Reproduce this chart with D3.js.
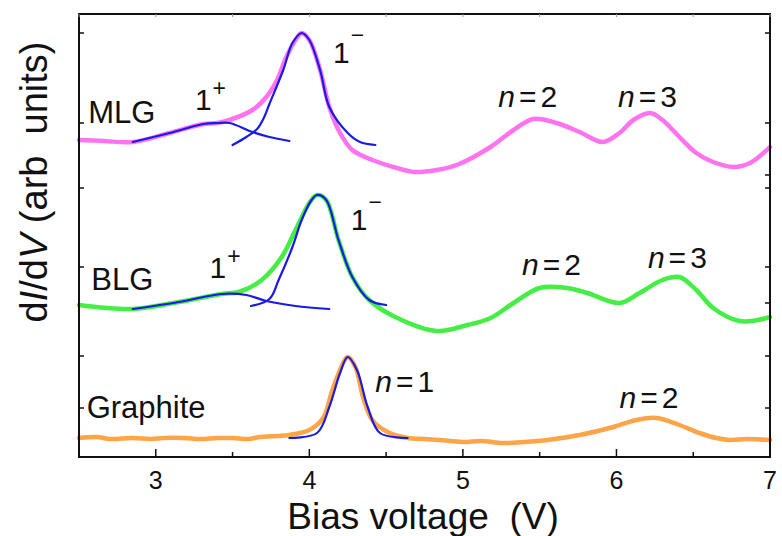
<!DOCTYPE html>
<html>
<head>
<meta charset="utf-8">
<script src="https://cdn.jsdelivr.net/npm/d3@7"></script>
<style>
  body { margin: 0; background: #fff; }
  svg { display: block; font-family: "Liberation Sans", Arial, Helvetica, sans-serif; }
  text { white-space: pre; }
</style>
</head>
<body>
<svg width="782" height="536"></svg>
<script>
// spectra: [bias (V), dI/dV (arb. units, offset per trace)]
const mlg = [[2.50,3.17],[2.66,3.16],[2.85,3.15],[3.09,3.24],[3.31,3.33],[3.40,3.34],[3.48,3.37],[3.63,3.47],[3.72,3.60],[3.79,3.77],[3.85,4.00],[3.91,4.17],[3.95,4.24],[4.00,4.17],[4.07,3.87],[4.13,3.50],[4.20,3.24],[4.28,3.07],[4.41,2.97],[4.57,2.89],[4.68,2.85],[4.83,2.87],[4.96,2.92],[5.18,3.10],[5.33,3.27],[5.46,3.38],[5.61,3.34],[5.76,3.25],[5.91,3.15],[6.02,3.24],[6.11,3.37],[6.22,3.44],[6.30,3.37],[6.41,3.20],[6.52,3.04],[6.63,2.95],[6.76,2.90],[6.87,2.94],[7.00,3.10]];
const mlgFitPlus = [[2.85,3.15],[3.09,3.24],[3.31,3.33],[3.40,3.34],[3.48,3.34],[3.63,3.25],[3.74,3.20],[3.87,3.16]];
const mlgFitMinus = [[3.50,3.12],[3.59,3.20],[3.66,3.28],[3.70,3.38],[3.74,3.53],[3.83,3.87],[3.89,4.14],[3.95,4.24],[4.00,4.17],[4.07,3.87],[4.13,3.50],[4.25,3.24],[4.33,3.15],[4.43,3.12]];

const blg = [[2.50,1.52],[2.85,1.48],[3.15,1.55],[3.43,1.63],[3.54,1.65],[3.69,1.77],[3.82,2.00],[3.91,2.27],[4.00,2.54],[4.05,2.62],[4.11,2.57],[4.19,2.17],[4.28,1.80],[4.39,1.57],[4.56,1.40],[4.83,1.26],[5.03,1.32],[5.18,1.39],[5.33,1.54],[5.50,1.69],[5.68,1.69],[5.81,1.64],[6.02,1.54],[6.15,1.64],[6.30,1.77],[6.41,1.80],[6.52,1.67],[6.63,1.49],[6.80,1.36],[6.92,1.37],[7.00,1.40]];
const blgFitPlus = [[2.85,1.48],[3.15,1.55],[3.43,1.63],[3.59,1.62],[3.72,1.56],[3.91,1.51],[4.13,1.48]];
const blgFitMinus = [[3.62,1.51],[3.74,1.58],[3.80,1.77],[3.89,2.10],[3.95,2.37],[4.01,2.56],[4.05,2.62],[4.11,2.57],[4.19,2.17],[4.28,1.80],[4.39,1.57],[4.50,1.52]];

const graphite = [[2.50,0.19],[2.62,0.20],[2.70,0.18],[2.85,0.19],[2.97,0.18],[3.05,0.19],[3.18,0.19],[3.29,0.18],[3.40,0.19],[3.50,0.19],[3.60,0.18],[3.68,0.20],[3.80,0.21],[3.87,0.22],[4.00,0.27],[4.09,0.39],[4.15,0.67],[4.22,0.94],[4.25,1.00],[4.30,0.90],[4.35,0.60],[4.41,0.37],[4.51,0.25],[4.64,0.19],[4.75,0.18],[4.85,0.17],[5.00,0.15],[5.12,0.16],[5.26,0.14],[5.40,0.15],[5.55,0.17],[5.76,0.22],[5.98,0.30],[6.13,0.37],[6.26,0.39],[6.41,0.32],[6.54,0.24],[6.65,0.19],[6.74,0.17],[6.85,0.18],[7.00,0.17]];
const graphiteFit = [[3.87,0.19],[4.05,0.24],[4.13,0.50],[4.20,0.84],[4.25,1.00],[4.31,0.87],[4.38,0.50],[4.46,0.24],[4.64,0.19]];

const xTicks = [3, 4, 5, 6, 7];
const xMinorTicks = [2.5, 3.5, 4.5, 5.5, 6.5];
const yTicksLeft = [4.24, 3.34, 2.69, 1.90, 1.01, 0.49];
const yTicksRight = [4.24, 3.34, 2.82, 2.69, 1.90, 1.54, 1.01, 0.49];

// sample names and peak labels
const names = [["MLG", 2.56, 3.34], ["BLG", 2.58, 1.67], ["Graphite", 2.55, 0.39]];
const peakLabels = [
    ["1", "+", 3.255, 3.47], ["1", "\u2212", 4.154, 3.94],
    ["1", "+", 3.35, 1.79], ["1", "\u2212", 4.27, 2.27]
];
const nLabels = [
    ["2", 5.23, 3.50], ["3", 6.01, 3.50],
    ["2", 5.385, 1.82], ["3", 6.205, 1.89],
    ["1", 4.43, 0.65], ["2", 6.02, 0.49]
];

const svg = d3.select("svg");
const margin = { left: 79, right: 12, top: 14, bottom: 79 };
const width = +svg.attr("width");
const height = +svg.attr("height");

const x = d3.scaleLinear().domain([2.5, 7]).range([margin.left, width - margin.right]);
const y = d3.scaleLinear().domain([0, 4.43]).range([height - margin.bottom, margin.top]);

const line = d3.line()
    .x(d => x(d[0]))
    .y(d => y(d[1]))
    .curve(d3.curveCatmullRom.alpha(0.5));

// Draw data traces, then the blue fits on top
function drawTrace(data, color, w) {
    svg.append("path")
        .datum(data)
        .attr("fill", "none")
        .attr("stroke", color)
        .attr("stroke-width", w)
        .attr("stroke-linecap", "round")
        .attr("stroke-linejoin", "round")
        .attr("d", line);
}

drawTrace(mlg, "#ff74ee", 4.5);
drawTrace(blg, "#44ee44", 4.5);
drawTrace(graphite, "#ffa447", 4.5);

[mlgFitPlus, mlgFitMinus, blgFitPlus, blgFitMinus, graphiteFit].forEach(d => drawTrace(d, "#1a1ae6", 2.2));

// Frame and ticks
const frame = svg.append("g").attr("stroke", "#111").attr("fill", "none");
frame.append("rect")
    .attr("x", x(2.5)).attr("y", y(4.43))
    .attr("width", x(7) - x(2.5)).attr("height", y(0) - y(4.43))
    .attr("stroke-width", 2);

frame.selectAll(".xmaj").data(xTicks).enter().append("line")
    .attr("x1", d => x(d)).attr("x2", d => x(d))
    .attr("y1", y(0)).attr("y2", y(0) - 8).attr("stroke-width", 1.5);
frame.selectAll(".xmin").data(xMinorTicks).enter().append("line")
    .attr("x1", d => x(d)).attr("x2", d => x(d))
    .attr("y1", y(0)).attr("y2", y(0) - 5).attr("stroke-width", 1.5);
frame.selectAll(".xtop").data(xTicks.concat(xMinorTicks)).enter().append("line")
    .attr("x1", d => x(d)).attr("x2", d => x(d))
    .attr("y1", y(4.43)).attr("y2", y(4.43) + 3).attr("stroke-width", 1).attr("stroke", "#999");
frame.selectAll(".yl").data(yTicksLeft).enter().append("line")
    .attr("x1", x(2.5)).attr("x2", x(2.5) + 5)
    .attr("y1", d => y(d)).attr("y2", d => y(d)).attr("stroke-width", 1.5);
frame.selectAll(".yr").data(yTicksRight).enter().append("line")
    .attr("x1", x(7)).attr("x2", x(7) - 5)
    .attr("y1", d => y(d)).attr("y2", d => y(d)).attr("stroke-width", 1.5);

svg.append("g")
    .selectAll("text")
    .data(xTicks)
    .enter().append("text")
    .attr("x", d => x(d))
    .attr("y", 489)
    .attr("text-anchor", "middle")
    .attr("font-size", 25)
    .attr("fill", "#111")
    .text(d => d);

// Axis titles
svg.append("text")
    .attr("x", 423)
    .attr("y", 529)
    .attr("text-anchor", "middle")
    .attr("font-size", 37)
    .attr("fill", "#111")
    .text("Bias voltage  (V)");

const yTitle = svg.append("text")
    .attr("transform", "translate(47,182) rotate(-90)")
    .attr("text-anchor", "middle")
    .attr("font-size", 38)
    .attr("fill", "#111");
yTitle.append("tspan").text("d");
yTitle.append("tspan").attr("font-style", "italic").text("I");
yTitle.append("tspan").text("/d");
yTitle.append("tspan").attr("font-style", "italic").text("V");
yTitle.append("tspan").text(" (arb  units)");

// Annotations
const ann = svg.append("g").attr("fill", "#111");

names.forEach(([t, v, yy]) => {
    ann.append("text").attr("x", x(v)).attr("y", y(yy)).attr("font-size", 31).text(t);
});

peakLabels.forEach(([t, s, v, yy]) => {
    const el = ann.append("text").attr("x", x(v)).attr("y", y(yy)).attr("font-size", 30);
    el.append("tspan").text(t);
    el.append("tspan")
        .attr("font-size", 23)
        .attr("dx", 1)
        .attr("dy", s === "+" ? -14 : -20)
        .text(s);
});

nLabels.forEach(([t, v, yy]) => {
    const el = ann.append("text").attr("x", x(v)).attr("y", y(yy)).attr("font-size", 30);
    el.append("tspan").attr("font-style", "italic").text("n");
    el.append("tspan").attr("dx", 4).text("=");
    el.append("tspan").attr("dx", 4).text(t);
});
</script>
</body>
</html>
